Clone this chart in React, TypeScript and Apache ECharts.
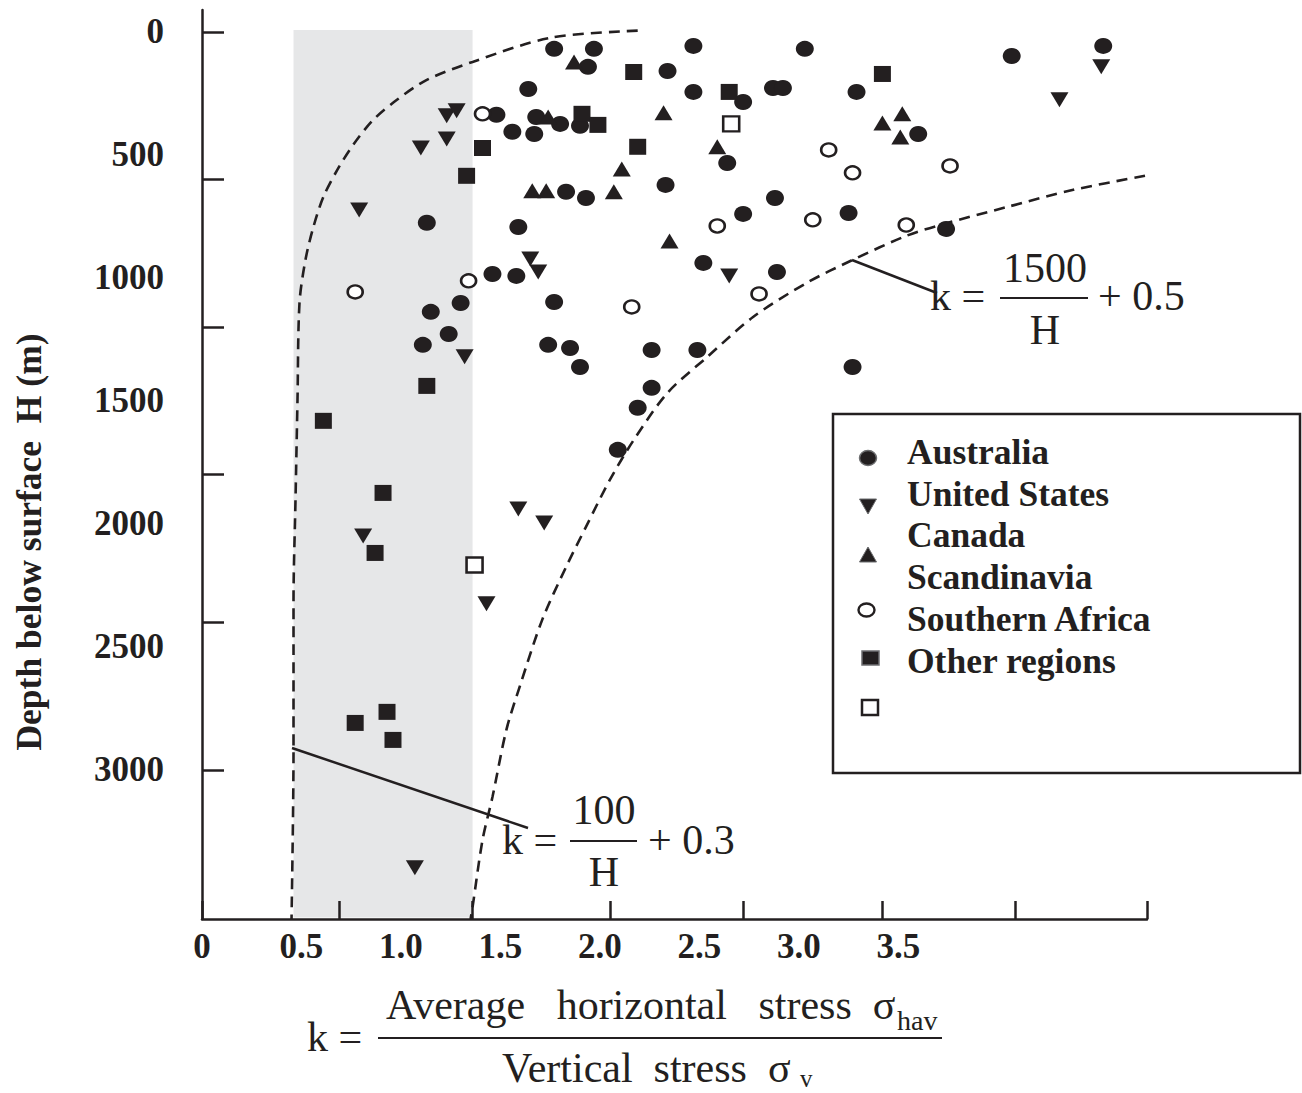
import React, { useEffect, useRef } from "react";
import * as echarts from "echarts";

const INK = "#231f20";
const SHADE = "#e6e7e8";
const SERIF = '"Liberation Serif", "Times New Roman", Times, serif';

// [k, depth H (m)]
const australia = [
  [1.77, 69], [1.97, 69], [1.94, 142], [1.64, 232], [1.48, 337], [1.68, 346], [1.8, 374], [1.9, 382],
  [1.56, 406], [1.67, 415], [1.83, 650], [1.93, 675], [1.13, 776], [1.59, 793], [1.46, 984], [1.58, 992],
  [1.3, 1102], [1.15, 1138], [1.77, 1098], [1.24, 1228], [1.11, 1272], [1.74, 1272], [1.85, 1285], [1.9, 1362],
  [2.26, 1293], [2.49, 1293], [2.26, 1447], [2.19, 1528], [2.09, 1699], [3.27, 1362], [2.47, 57], [3.03, 69],
  [4.07, 98], [4.53, 57], [2.34, 159], [2.47, 244], [2.72, 285], [2.87, 228], [2.92, 228], [3.29, 244],
  [2.64, 533], [3.6, 415], [2.33, 622], [2.88, 675], [2.72, 740], [3.25, 736], [3.74, 801], [2.52, 939], [2.89, 976],
];
const unitedStates = [
  [1.23, 341], [1.28, 321], [1.23, 435], [1.1, 472], [0.79, 724], [1.65, 923], [1.69, 976], [1.32, 1321],
  [0.81, 2049], [1.59, 1939], [1.72, 1996], [1.43, 2325], [1.07, 3398], [2.65, 992], [4.52, 142], [4.31, 276],
];
const canada = [
  [1.87, 122], [1.74, 346], [2.11, 557], [1.66, 646], [1.73, 646], [2.07, 650], [2.32, 329], [2.59, 467],
  [3.42, 370], [3.52, 333], [3.51, 427], [2.35, 850],
];
const scandinavia = [
  [1.41, 333], [1.34, 1012], [0.77, 1057], [2.16, 1118], [3.15, 480], [3.27, 573], [3.76, 545], [2.59, 789],
  [3.07, 764], [3.54, 785], [2.8, 1065],
];
const southernAfrica = [
  [2.17, 163], [1.91, 333], [1.99, 378], [1.41, 472], [2.19, 467], [1.33, 585], [2.65, 244], [3.42, 171],
  [1.13, 1439], [0.61, 1581], [0.91, 1874], [0.87, 2118], [0.77, 2809], [0.93, 2764], [0.96, 2878],
];
const otherRegions = [[2.66, 374], [1.37, 2167]];

// dashed envelope curves as drawn
const curveLow = [
  [2.19, -5], [1.75, 24], [1.36, 122], [1.13, 195], [0.98, 276], [0.86, 358], [0.76, 459], [0.68, 561],
  [0.61, 671], [0.56, 793], [0.52, 927], [0.49, 1102], [0.48, 1496], [0.47, 1902], [0.46, 2309], [0.46, 2919], [0.45, 3606],
];
const curveHigh = [
  [4.74, 585], [4.38, 642], [4.05, 711], [3.71, 785], [3.54, 829], [3.27, 927], [3.04, 1020], [2.77, 1159],
  [2.54, 1321], [2.34, 1467], [2.17, 1659], [2.05, 1821], [1.93, 2012], [1.83, 2175], [1.71, 2390], [1.6, 2654],
  [1.53, 2837], [1.46, 3110], [1.41, 3285], [1.36, 3557], [1.35, 3606],
];
const shadedK = [0.46, 1.36];

const xLabelValues = [0, 0.5, 1, 1.5, 2, 2.5, 3, 3.5];
const xTickValues = [0, 0.69, 1.36, 2.05, 2.72, 3.42, 4.09, 4.75];
const yLabelValues = [0, 500, 1000, 1500, 2000, 2500, 3000];
const yTickValues = [0, 600, 1200, 1800, 2400, 3000];
const legendLabels = ["Australia", "United States", "Canada", "Scandinavia", "Southern Africa", "Other regions"];

function txt(text: string, x: number, y: number, size: number, o: any = {}) {
  const align = o.align || "left";
  return {
    type: "text",
    x,
    y,
    z: 20,
    silent: true,
    rotation: o.rotation || 0,
    style: {
      text,
      fill: INK,
      fontFamily: SERIF,
      fontSize: size,
      fontWeight: o.bold ? "bold" : "normal",
      align,
      textAlign: align,
      verticalAlign: "middle",
      textVerticalAlign: "middle",
    },
  };
}
function seg(x1: number, y1: number, x2: number, y2: number, w = 2) {
  return { type: "line", z: 20, silent: true, shape: { x1, y1, x2, y2 }, style: { stroke: INK, lineWidth: w } };
}

function scatter(name: string, data: number[][], symbol: string, size: number[], filled: boolean, rotate = 0) {
  return {
    type: "scatter",
    name,
    data,
    symbol,
    symbolSize: size,
    symbolRotate: rotate,
    silent: true,
    z: 5,
    itemStyle: filled
      ? { color: INK, opacity: 1 }
      : { color: "#ffffff", borderColor: INK, borderWidth: 2.5, opacity: 1 },
  };
}

const legendY = [452, 494, 535, 577, 619, 661];

const graphic: any[] = [
  txt("Depth below surface  H (m)", 29, 542, 35.5, { bold: true, align: "center", rotation: Math.PI / 2 }),
  { type: "rect", z: 15, silent: true, shape: { x: 833, y: 414, width: 467, height: 359 }, style: { fill: "#ffffff", stroke: INK, lineWidth: 2.5 } },
  ...legendLabels.map((l, i) => txt(l, 907, legendY[i], 35.5, { bold: true })),
  { type: "ellipse", z: 20, silent: true, shape: { cx: 868, cy: 458, rx: 8.5, ry: 7.5 }, style: { fill: INK, stroke: "#6d6e70", lineWidth: 1.5 } },
  { type: "polygon", z: 20, silent: true, shape: { points: [[859.5, 499], [876.5, 499], [868, 514]] }, style: { fill: INK, stroke: "#6d6e70", lineWidth: 1 } },
  { type: "polygon", z: 20, silent: true, shape: { points: [[868, 547], [876.5, 562], [859.5, 562]] }, style: { fill: INK, stroke: "#6d6e70", lineWidth: 1 } },
  { type: "ellipse", z: 20, silent: true, shape: { cx: 866.5, cy: 610, rx: 8, ry: 6.5 }, style: { fill: "#ffffff", stroke: INK, lineWidth: 2.4 } },
  { type: "rect", z: 20, silent: true, shape: { x: 862, y: 651, width: 17, height: 14 }, style: { fill: INK, stroke: "#6d6e70", lineWidth: 1.5 } },
  { type: "rect", z: 20, silent: true, shape: { x: 862, y: 700, width: 16, height: 15 }, style: { fill: "#ffffff", stroke: INK, lineWidth: 2.5 } },
  // k = 100/H + 0.3
  seg(292, 748, 528, 828, 2.5),
  txt("k =", 502, 840, 42),
  txt("100", 604, 810, 42, { align: "center" }),
  seg(570, 841, 637, 841, 2),
  txt("H", 604, 872, 42, { align: "center" }),
  txt("+ 0.3", 648, 840, 42),
  // k = 1500/H + 0.5
  seg(852, 260, 937, 293, 2.5),
  txt("k =", 930, 296, 42),
  txt("1500", 1045, 268, 42, { align: "center" }),
  seg(1000, 298, 1088, 298, 2),
  txt("H", 1045, 330, 42, { align: "center" }),
  txt("+ 0.5", 1098, 296, 42),
  // x-axis title
  txt("k =", 307, 1037, 42),
  txt("Average   horizontal   stress  σ", 386, 1005, 42),
  txt("hav", 897, 1020, 28),
  seg(378, 1038, 942, 1038, 2),
  txt("Vertical  stress  σ", 502, 1068, 42),
  txt("v", 800, 1078, 25),
];

const axisLabelStyle = { color: INK, fontFamily: SERIF, fontWeight: "bold", fontSize: 35 };

const option: any = {
  animation: false,
  backgroundColor: "#ffffff",
  grid: { left: 202, top: 10, right: 155, bottom: 174, containLabel: false },
  xAxis: {
    type: "value",
    min: 0,
    max: 4.75,
    z: 8,
    axisLine: { show: true, onZero: false, lineStyle: { color: INK, width: 2.5 } },
    axisTick: { show: true, inside: true, length: 18, customValues: xTickValues, lineStyle: { color: INK, width: 2.5 } },
    axisLabel: {
      ...axisLabelStyle,
      customValues: xLabelValues,
      margin: 10,
      formatter: (v: number) => (v === 0 ? "0" : v.toFixed(1)),
    },
    splitLine: { show: false },
  },
  yAxis: {
    type: "value",
    inverse: true,
    min: -89,
    max: 3606,
    z: 8,
    axisLine: { show: true, onZero: false, lineStyle: { color: INK, width: 2.5 } },
    axisTick: { show: true, inside: true, length: 22, customValues: yTickValues, lineStyle: { color: INK, width: 2.5 } },
    axisLabel: { ...axisLabelStyle, customValues: yLabelValues, margin: 38, formatter: (v: number) => String(v) },
    splitLine: { show: false },
  },
  series: [
    {
      type: "line",
      name: "shade",
      data: [],
      z: 1,
      silent: true,
      markArea: {
        silent: true,
        itemStyle: { color: SHADE, opacity: 1 },
        data: [[{ xAxis: shadedK[0], yAxis: -8 }, { xAxis: shadedK[1], yAxis: 3600 }]],
      },
    },
    {
      type: "line",
      name: "k = 100/H + 0.3",
      data: curveLow,
      symbol: "none",
      smooth: 0.3,
      silent: true,
      z: 4,
      lineStyle: { color: INK, width: 2.6, type: [11, 7] },
    },
    {
      type: "line",
      name: "k = 1500/H + 0.5",
      data: curveHigh,
      symbol: "none",
      smooth: 0.3,
      silent: true,
      z: 4,
      lineStyle: { color: INK, width: 2.6, type: [11, 7] },
    },
    scatter("Australia", australia, "circle", [18, 16], true),
    scatter("United States", unitedStates, "triangle", [18, 15], true, 180),
    scatter("Canada", canada, "triangle", [18, 15], true),
    scatter("Scandinavia", scandinavia, "circle", [15, 13], false),
    scatter("Southern Africa", southernAfrica, "rect", [17, 16], true),
    scatter("Other regions", otherRegions, "rect", [16, 15], false),
  ],
  graphic: { elements: graphic },
};

export default function App() {
  const ref = useRef<HTMLDivElement>(null);
  useEffect(() => {
    const chart = echarts.init(ref.current as HTMLDivElement, undefined, { renderer: "svg" });
    chart.setOption(option);
    return () => chart.dispose();
  }, []);
  return (
    <div
      ref={ref}
      style={{ position: "absolute", left: 0, top: 0, width: 1302, height: 1093, background: "#ffffff" }}
    />
  );
}
